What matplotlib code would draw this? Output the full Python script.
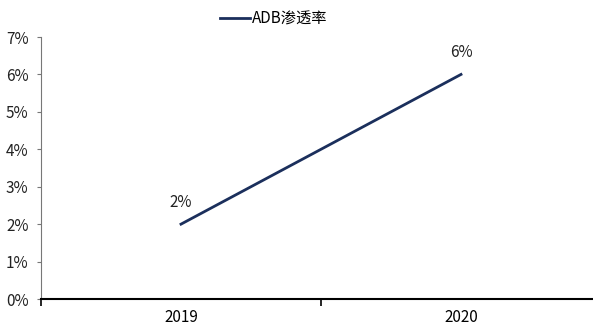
import numpy as np
import matplotlib.pyplot as plt
from matplotlib.ticker import FuncFormatter

plt.rcParams['font.family'] = ['Liberation Sans Narrow', 'Noto Sans CJK SC', 'DejaVu Sans']

# ADB penetration rate by year
years = ["2019", "2020"]
adb_rate = [2, 6]
series_name = "ADB渗透率"
line_color = "#1b2f5c"

fig = plt.figure(figsize=(5.93, 3.27), dpi=100)
ax = fig.add_axes([41 / 593, 28 / 327, 560 / 593, 262 / 327])

x = np.arange(len(years))
ax.plot(x, adb_rate, color=line_color, lw=2, label=series_name)

# value labels above each point
for xi, v in zip(x, adb_rate):
    ax.text(xi, v + 0.35, f"{v}%", ha="center", va="bottom", fontsize=11, color="#222222")

ax.set_xlim(-0.5, len(years) - 0.5)
ax.set_ylim(0, 7)
ax.set_yticks(range(0, 8))
ax.yaxis.set_major_formatter(FuncFormatter(lambda v, _: f"{int(v)}%"))

# category axis: ticks sit between categories, labels at centres
ax.set_xticks(np.arange(len(years) + 1) - 0.5)
ax.set_xticklabels([])
ax.set_xticks(x, minor=True)
ax.set_xticklabels(years, minor=True, fontsize=11)
ax.tick_params(axis="x", which="minor", length=0, pad=7)
ax.tick_params(axis="x", which="major", length=5, width=1.2, direction="out")
ax.tick_params(axis="y", length=3, width=0.8, colors="#777777", labelcolor="#222222",
               labelsize=11, pad=6)

ax.spines["top"].set_visible(False)
ax.spines["right"].set_visible(False)
ax.spines["left"].set_color("#777777")
ax.spines["left"].set_linewidth(0.8)
ax.spines["bottom"].set_color("black")
ax.spines["bottom"].set_linewidth(1.5)

ax.legend(loc="lower center", bbox_to_anchor=(0.415, 1.0), frameon=False, fontsize=11,
          handlelength=2.0, handletextpad=0.1, borderaxespad=0.2)

fig.savefig("out.png", dpi=100)
